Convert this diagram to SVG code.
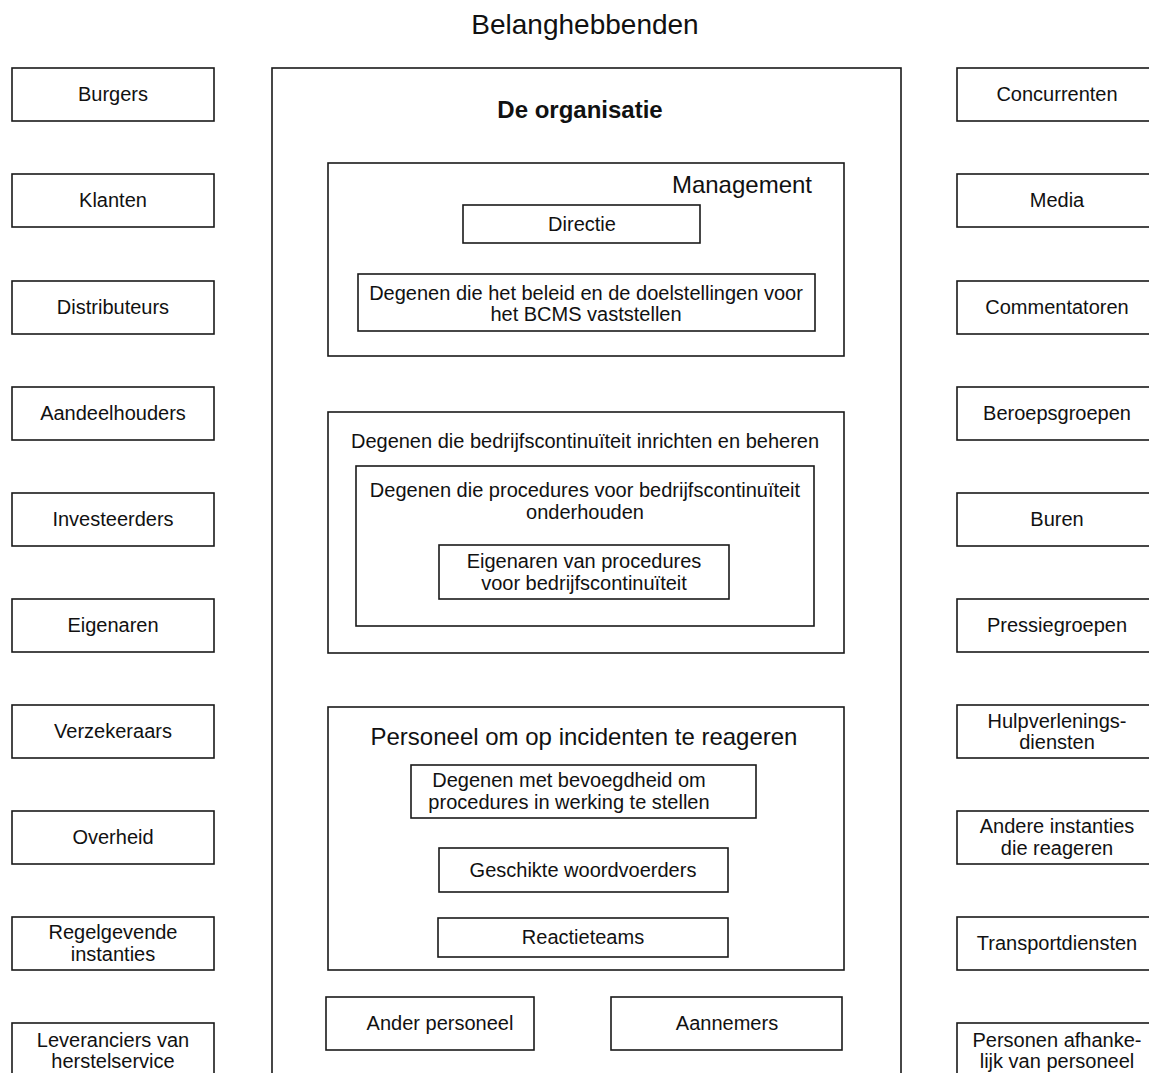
<svg xmlns="http://www.w3.org/2000/svg" width="1149" height="1073" viewBox="0 0 1149 1073">
<style>
rect{fill:#fff;stroke:#1a1a1a;stroke-width:1.6}
text{font-family:"Liberation Sans",Arial,sans-serif;fill:#111;text-anchor:middle;font-size:20px}
.t{font-size:28px}
.b{font-size:24px;font-weight:bold}
.h{font-size:24px}
</style>
<rect x="0" y="0" width="1149" height="1073" style="stroke:none"/>
<text class="t" x="585" y="34">Belanghebbenden</text>
<g id="organisatie">
<rect x="272" y="68" width="629" height="1020"/>
<text class="b" x="580" y="118">De organisatie</text>
</g>
<g id="management">
<rect x="328" y="163" width="516" height="193"/>
<text class="h" x="812" y="193" style="text-anchor:end">Management</text>
</g>
<g id="directie"><rect x="463" y="205" width="237" height="38"/><text x="582" y="231">Directie</text></g>
<g id="beleid"><rect x="358" y="274" width="457" height="57"/><text x="586" y="300">Degenen die het beleid en de doelstellingen voor</text><text x="586" y="321">het BCMS vaststellen</text></g>
<g id="inrichten">
<rect x="328" y="412" width="516" height="241"/>
<text x="585" y="448">Degenen die bedrijfscontinuïteit inrichten en beheren</text>
</g>
<g id="onderhouden"><rect x="356" y="466" width="458" height="160"/><text x="585" y="497">Degenen die procedures voor bedrijfscontinuïteit</text><text x="585" y="519">onderhouden</text></g>
<g id="eigenaren-procedures"><rect x="439" y="545" width="290" height="54"/><text x="584" y="568">Eigenaren van procedures</text><text x="584" y="590">voor bedrijfscontinuïteit</text></g>
<g id="personeel-incidenten">
<rect x="328" y="707" width="516" height="263"/>
<text class="h" x="584" y="745">Personeel om op incidenten te reageren</text>
</g>
<g id="bevoegdheid"><rect x="411" y="765" width="345" height="53"/><text x="569" y="787">Degenen met bevoegdheid om</text><text x="569" y="809">procedures in werking te stellen</text></g>
<g id="woordvoerders"><rect x="439" y="848" width="289" height="44"/><text x="583" y="877">Geschikte woordvoerders</text></g>
<g id="reactieteams"><rect x="438" y="918" width="290" height="39"/><text x="583" y="944">Reactieteams</text></g>
<g id="ander-personeel"><rect x="326" y="997" width="208" height="53"/><text x="440" y="1030">Ander personeel</text></g>
<g id="aannemers"><rect x="611" y="997" width="231" height="53"/><text x="727" y="1030">Aannemers</text></g>

<g id="burgers"><rect x="12" y="68" width="202" height="53"/><text x="113" y="101">Burgers</text></g>
<g id="klanten"><rect x="12" y="174" width="202" height="53"/><text x="113" y="207">Klanten</text></g>
<g id="distributeurs"><rect x="12" y="281" width="202" height="53"/><text x="113" y="314">Distributeurs</text></g>
<g id="aandeelhouders"><rect x="12" y="387" width="202" height="53"/><text x="113" y="420">Aandeelhouders</text></g>
<g id="investeerders"><rect x="12" y="493" width="202" height="53"/><text x="113" y="526">Investeerders</text></g>
<g id="eigenaren"><rect x="12" y="599" width="202" height="53"/><text x="113" y="632">Eigenaren</text></g>
<g id="verzekeraars"><rect x="12" y="705" width="202" height="53"/><text x="113" y="738">Verzekeraars</text></g>
<g id="overheid"><rect x="12" y="811" width="202" height="53"/><text x="113" y="844">Overheid</text></g>
<g id="regelgevende"><rect x="12" y="917" width="202" height="53"/><text x="113" y="939">Regelgevende</text><text x="113" y="961">instanties</text></g>
<g id="leveranciers"><rect x="12" y="1023" width="202" height="70"/><text x="113" y="1047">Leveranciers van</text><text x="113" y="1068">herstelservice</text></g>

<g id="concurrenten"><rect x="957" y="68" width="210" height="53"/><text x="1057" y="101">Concurrenten</text></g>
<g id="media"><rect x="957" y="174" width="210" height="53"/><text x="1057" y="207">Media</text></g>
<g id="commentatoren"><rect x="957" y="281" width="210" height="53"/><text x="1057" y="314">Commentatoren</text></g>
<g id="beroepsgroepen"><rect x="957" y="387" width="210" height="53"/><text x="1057" y="420">Beroepsgroepen</text></g>
<g id="buren"><rect x="957" y="493" width="210" height="53"/><text x="1057" y="526">Buren</text></g>
<g id="pressiegroepen"><rect x="957" y="599" width="210" height="53"/><text x="1057" y="632">Pressiegroepen</text></g>
<g id="hulpverlening"><rect x="957" y="705" width="210" height="53"/><text x="1057" y="728">Hulpverlenings-</text><text x="1057" y="749">diensten</text></g>
<g id="andere-instanties"><rect x="957" y="811" width="210" height="53"/><text x="1057" y="833">Andere instanties</text><text x="1057" y="855">die reageren</text></g>
<g id="transportdiensten"><rect x="957" y="917" width="210" height="53"/><text x="1057" y="950">Transportdiensten</text></g>
<g id="personen-afhankelijk"><rect x="957" y="1023" width="210" height="70"/><text x="1057" y="1047">Personen afhanke-</text><text x="1057" y="1068">lijk van personeel</text></g>
<g id="connectors"></g>
</svg>
